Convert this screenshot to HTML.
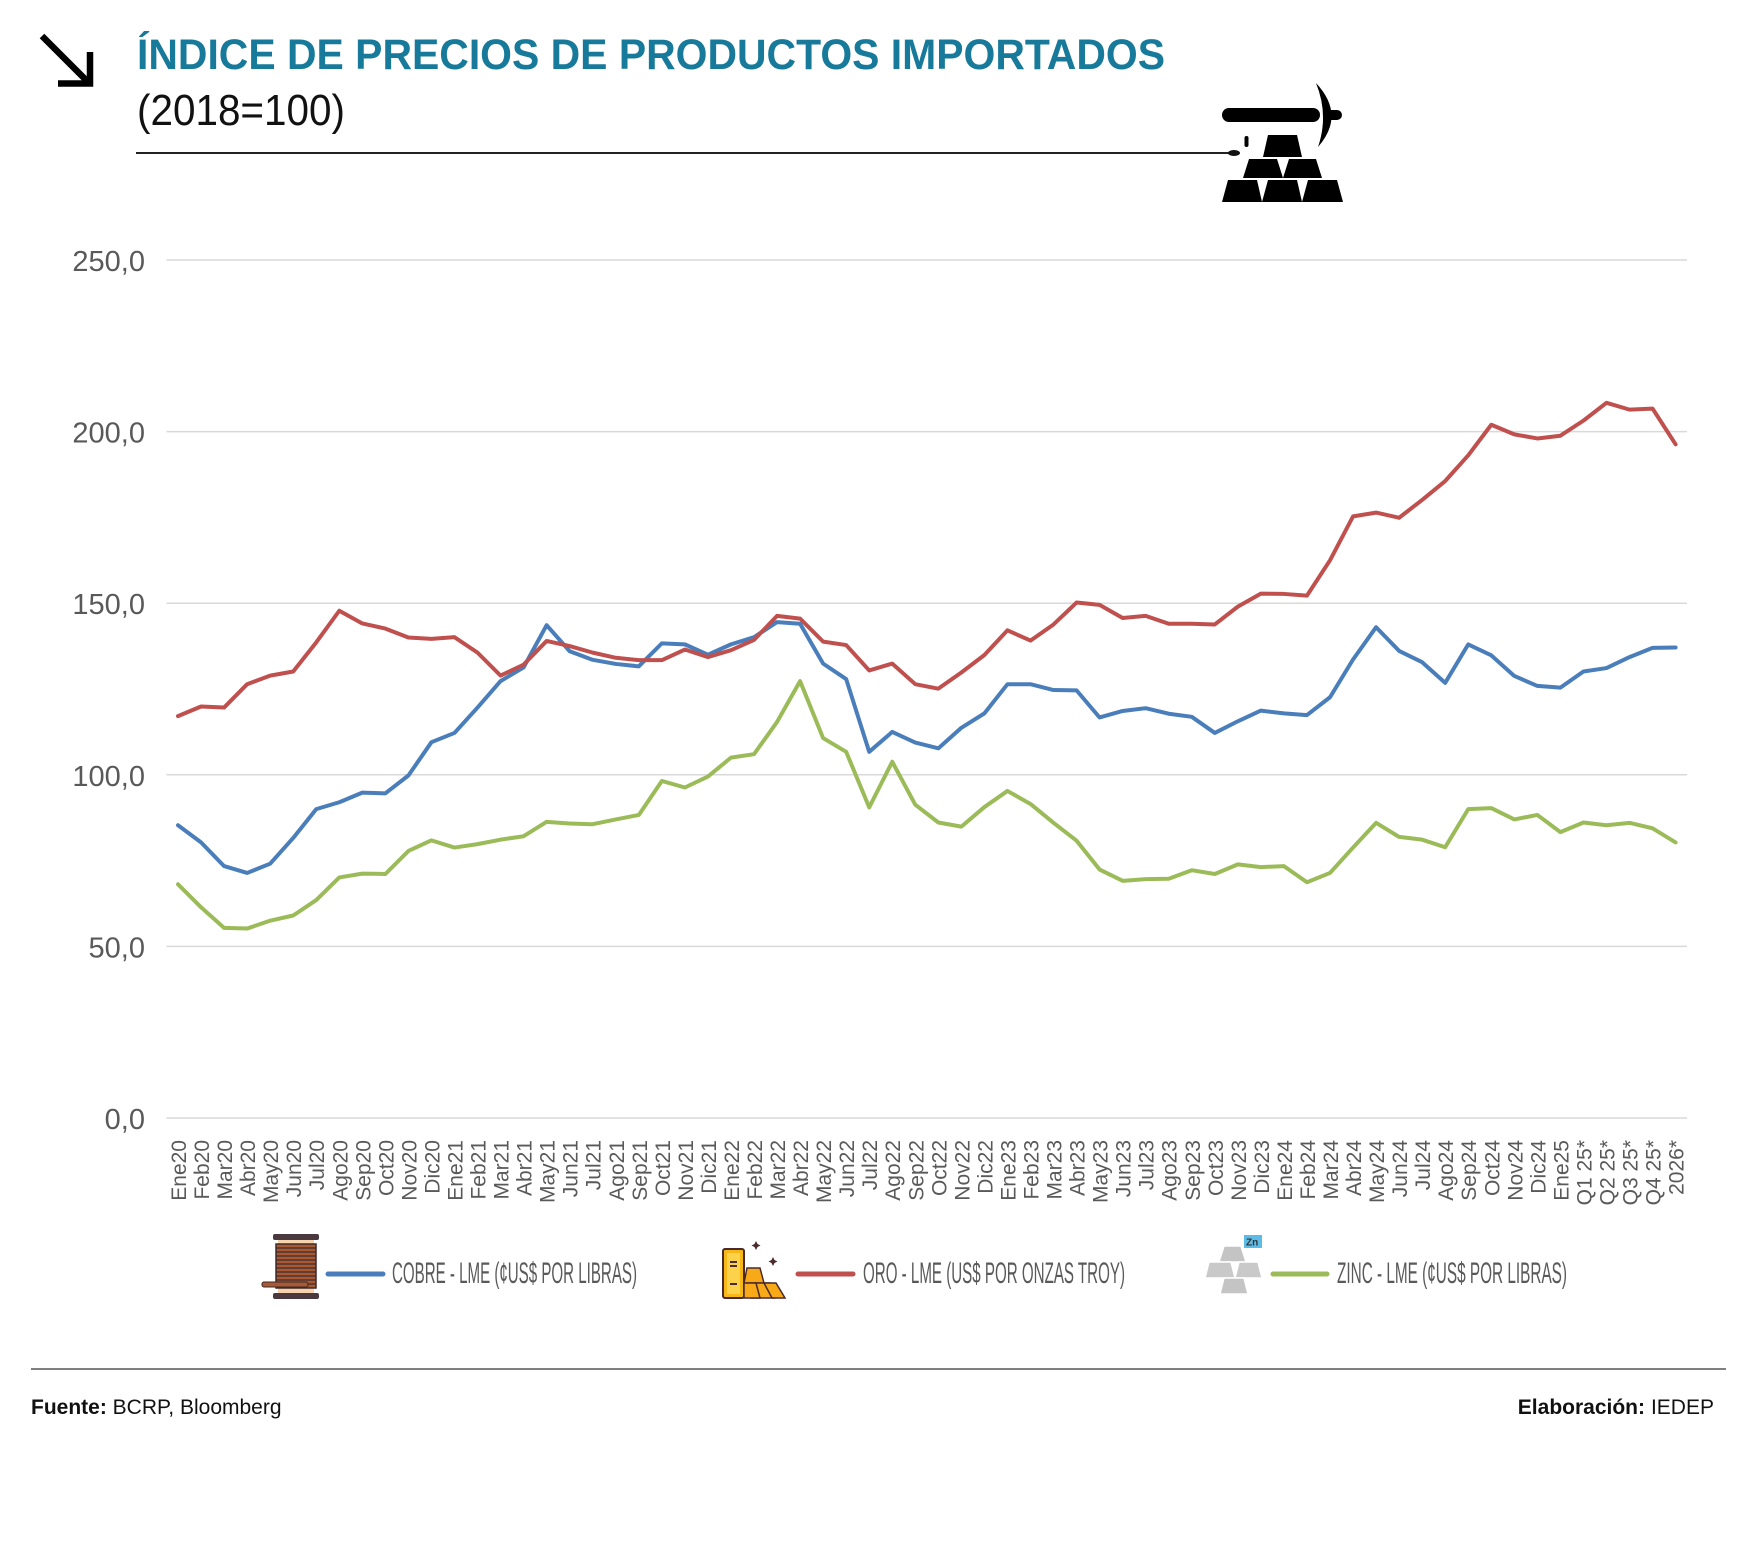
<!DOCTYPE html>
<html>
<head>
<meta charset="utf-8">
<style>
  html,body{margin:0;padding:0;background:#fff;}
  svg{display:block;}
  text{font-family:"Liberation Sans", Arial, sans-serif;}
</style>
</head>
<body>
<svg width="1740" height="1563" viewBox="0 0 1740 1563" xmlns="http://www.w3.org/2000/svg">
  <rect x="0" y="0" width="1740" height="1563" fill="#fff"/>

  <!-- Arrow icon -->
  <line x1="42" y1="36" x2="88" y2="82" stroke="#000" stroke-width="6.5"/>
  <polyline points="58,83.5 90,83.5 90,52" fill="none" stroke="#000" stroke-width="6.5" stroke-linejoin="miter"/>

  <!-- Title -->
  <text x="137" y="69" font-size="43" font-weight="bold" fill="#177a9a" textLength="1028" lengthAdjust="spacingAndGlyphs">ÍNDICE DE PRECIOS DE PRODUCTOS IMPORTADOS</text>
  <text x="137" y="125" font-size="44" fill="#111" textLength="208" lengthAdjust="spacingAndGlyphs">(2018=100)</text>
  <line x1="136" y1="153" x2="1232" y2="153" stroke="#222" stroke-width="2"/>
  <ellipse cx="1234" cy="153" rx="6" ry="3" fill="#111"/>

  <!-- Pickaxe + gold icon -->
  <rect x="1222" y="108" width="98" height="14" rx="7" fill="#000"/>
  <rect x="1326" y="110" width="16" height="10" rx="5" fill="#000"/>
  <path d="M1316,83 Q1346,115 1318,147 Q1329,115 1316,83 Z" fill="#000"/>
  <rect x="1244.5" y="136" width="4" height="11" rx="2" fill="#000"/>
  <polygon points="1268,135 1297,135 1302,157 1263,157" fill="#000"/>
  <polygon points="1249,159 1277,159 1283,178 1243,178" fill="#000"/>
  <polygon points="1289,159 1316,159 1322,178 1283,178" fill="#000"/>
  <polygon points="1228,180 1257,180 1262,202 1222,202" fill="#000"/>
  <polygon points="1268,180 1297,180 1302,202 1262,202" fill="#000"/>
  <polygon points="1308,180 1337,180 1343,202 1302,202" fill="#000"/>

  <!-- Gridlines -->
  <g stroke="#d9d9d9" stroke-width="1.5">
    <line x1="166.5" y1="260" x2="1687" y2="260"/>
    <line x1="166.5" y1="431.6" x2="1687" y2="431.6"/>
    <line x1="166.5" y1="603.2" x2="1687" y2="603.2"/>
    <line x1="166.5" y1="774.8" x2="1687" y2="774.8"/>
    <line x1="166.5" y1="946.4" x2="1687" y2="946.4"/>
    <line x1="166.5" y1="1118" x2="1687" y2="1118"/>
  </g>

  <!-- Y labels -->
  <g font-size="29" fill="#595959" text-anchor="end">
    <text x="145" y="271">250,0</text>
    <text x="145" y="442.6">200,0</text>
    <text x="145" y="614.2">150,0</text>
    <text x="145" y="785.8">100,0</text>
    <text x="145" y="957.4">50,0</text>
    <text x="145" y="1129">0,0</text>
  </g>

  <!-- Series -->
  <g transform="translate(178,1118) scale(23.04,-3.432)" fill="none" stroke-linejoin="round" stroke-linecap="round">
    <polyline vector-effect="non-scaling-stroke" stroke="#4a7ebb" stroke-width="4" points="0,85.3 1,80.3 2,73.4 3,71.4 4,74.1 5,81.6 6,90.0 7,92.0 8,94.8 9,94.6 10,99.8 11,109.5 12,112.2 13,119.6 14,127.3 15,131.3 16,143.6 17,136.0 18,133.5 19,132.3 20,131.6 21,138.3 22,138.0 23,135.0 24,138.0 25,140.1 26,144.5 27,144.0 28,132.4 29,127.9 30,106.7 31,112.5 32,109.4 33,107.7 34,113.7 35,117.9 36,126.4 37,126.4 38,124.7 39,124.6 40,116.7 41,118.6 42,119.4 43,117.8 44,116.9 45,112.2 46,115.6 47,118.7 48,117.9 49,117.4 50,122.6 51,133.6 52,143.0 53,136.1 54,132.8 55,126.8 56,138.0 57,134.8 58,128.8 59,125.9 60,125.4 61,130.1 62,131.1 63,134.3 64,137.0 65,137.1"/>
    <polyline vector-effect="non-scaling-stroke" stroke="#c0504d" stroke-width="4" points="0,117.1 1,119.9 2,119.6 3,126.4 4,128.9 5,130.1 6,138.6 7,147.8 8,144.1 9,142.6 10,140.0 11,139.6 12,140.1 13,135.6 14,128.9 15,132.1 16,139.0 17,137.5 18,135.6 19,134.1 20,133.4 21,133.4 22,136.5 23,134.3 24,136.3 25,139.3 26,146.3 27,145.5 28,138.8 29,137.8 30,130.4 31,132.4 32,126.4 33,125.1 34,129.8 35,134.9 36,142.1 37,139.1 38,143.8 39,150.2 40,149.5 41,145.7 42,146.3 43,144.0 44,144.0 45,143.8 46,149.0 47,152.8 48,152.7 49,152.2 50,162.5 51,175.3 52,176.4 53,174.9 54,180.1 55,185.6 56,193.1 57,202.0 58,199.2 59,198.0 60,198.8 61,203.2 62,208.4 63,206.4 64,206.7 65,196.3"/>
    <polyline vector-effect="non-scaling-stroke" stroke="#9bbb59" stroke-width="4" points="0,68.1 1,61.4 2,55.4 3,55.2 4,57.5 5,59.0 6,63.5 7,70.1 8,71.2 9,71.1 10,77.8 11,80.9 12,78.8 13,79.8 14,81.1 15,82.1 16,86.3 17,85.8 18,85.6 19,87.0 20,88.3 21,98.2 22,96.3 23,99.5 24,105.0 25,106.0 26,115.4 27,127.3 28,110.7 29,106.7 30,90.5 31,103.8 32,91.3 33,86.1 34,84.9 35,90.6 36,95.3 37,91.5 38,86.0 39,80.8 40,72.4 41,69.1 42,69.6 43,69.7 44,72.2 45,71.1 46,73.9 47,73.1 48,73.4 49,68.7 50,71.4 51,78.8 52,86.0 53,81.9 54,81.1 55,78.9 56,90.0 57,90.3 58,87.0 59,88.3 60,83.3 61,86.1 62,85.3 63,86.0 64,84.4 65,80.3"/>
  </g>

  <!-- X labels -->
  <g font-size="21" fill="#595959" text-anchor="end">
    <text transform="translate(186,1140) rotate(-90)">Ene20</text>
    <text transform="translate(209.04,1140) rotate(-90)">Feb20</text>
    <text transform="translate(232.08,1140) rotate(-90)">Mar20</text>
    <text transform="translate(255.12,1140) rotate(-90)">Abr20</text>
    <text transform="translate(278.16,1140) rotate(-90)">May20</text>
    <text transform="translate(301.2,1140) rotate(-90)">Jun20</text>
    <text transform="translate(324.24,1140) rotate(-90)">Jul20</text>
    <text transform="translate(347.28,1140) rotate(-90)">Ago20</text>
    <text transform="translate(370.32,1140) rotate(-90)">Sep20</text>
    <text transform="translate(393.36,1140) rotate(-90)">Oct20</text>
    <text transform="translate(416.4,1140) rotate(-90)">Nov20</text>
    <text transform="translate(439.44,1140) rotate(-90)">Dic20</text>
    <text transform="translate(462.48,1140) rotate(-90)">Ene21</text>
    <text transform="translate(485.52,1140) rotate(-90)">Feb21</text>
    <text transform="translate(508.56,1140) rotate(-90)">Mar21</text>
    <text transform="translate(531.6,1140) rotate(-90)">Abr21</text>
    <text transform="translate(554.64,1140) rotate(-90)">May21</text>
    <text transform="translate(577.68,1140) rotate(-90)">Jun21</text>
    <text transform="translate(600.72,1140) rotate(-90)">Jul21</text>
    <text transform="translate(623.76,1140) rotate(-90)">Ago21</text>
    <text transform="translate(646.8,1140) rotate(-90)">Sep21</text>
    <text transform="translate(669.84,1140) rotate(-90)">Oct21</text>
    <text transform="translate(692.88,1140) rotate(-90)">Nov21</text>
    <text transform="translate(715.92,1140) rotate(-90)">Dic21</text>
    <text transform="translate(738.96,1140) rotate(-90)">Ene22</text>
    <text transform="translate(762,1140) rotate(-90)">Feb22</text>
    <text transform="translate(785.04,1140) rotate(-90)">Mar22</text>
    <text transform="translate(808.08,1140) rotate(-90)">Abr22</text>
    <text transform="translate(831.12,1140) rotate(-90)">May22</text>
    <text transform="translate(854.16,1140) rotate(-90)">Jun22</text>
    <text transform="translate(877.2,1140) rotate(-90)">Jul22</text>
    <text transform="translate(900.24,1140) rotate(-90)">Ago22</text>
    <text transform="translate(923.28,1140) rotate(-90)">Sep22</text>
    <text transform="translate(946.32,1140) rotate(-90)">Oct22</text>
    <text transform="translate(969.36,1140) rotate(-90)">Nov22</text>
    <text transform="translate(992.4,1140) rotate(-90)">Dic22</text>
    <text transform="translate(1015.44,1140) rotate(-90)">Ene23</text>
    <text transform="translate(1038.48,1140) rotate(-90)">Feb23</text>
    <text transform="translate(1061.52,1140) rotate(-90)">Mar23</text>
    <text transform="translate(1084.56,1140) rotate(-90)">Abr23</text>
    <text transform="translate(1107.6,1140) rotate(-90)">May23</text>
    <text transform="translate(1130.64,1140) rotate(-90)">Jun23</text>
    <text transform="translate(1153.68,1140) rotate(-90)">Jul23</text>
    <text transform="translate(1176.72,1140) rotate(-90)">Ago23</text>
    <text transform="translate(1199.76,1140) rotate(-90)">Sep23</text>
    <text transform="translate(1222.8,1140) rotate(-90)">Oct23</text>
    <text transform="translate(1245.84,1140) rotate(-90)">Nov23</text>
    <text transform="translate(1268.88,1140) rotate(-90)">Dic23</text>
    <text transform="translate(1291.92,1140) rotate(-90)">Ene24</text>
    <text transform="translate(1314.96,1140) rotate(-90)">Feb24</text>
    <text transform="translate(1338,1140) rotate(-90)">Mar24</text>
    <text transform="translate(1361.04,1140) rotate(-90)">Abr24</text>
    <text transform="translate(1384.08,1140) rotate(-90)">May24</text>
    <text transform="translate(1407.12,1140) rotate(-90)">Jun24</text>
    <text transform="translate(1430.16,1140) rotate(-90)">Jul24</text>
    <text transform="translate(1453.2,1140) rotate(-90)">Ago24</text>
    <text transform="translate(1476.24,1140) rotate(-90)">Sep24</text>
    <text transform="translate(1499.28,1140) rotate(-90)">Oct24</text>
    <text transform="translate(1522.32,1140) rotate(-90)">Nov24</text>
    <text transform="translate(1545.36,1140) rotate(-90)">Dic24</text>
    <text transform="translate(1568.4,1140) rotate(-90)">Ene25</text>
    <text transform="translate(1591.44,1140) rotate(-90)">Q1 25*</text>
    <text transform="translate(1614.48,1140) rotate(-90)">Q2 25*</text>
    <text transform="translate(1637.52,1140) rotate(-90)">Q3 25*</text>
    <text transform="translate(1660.56,1140) rotate(-90)">Q4 25*</text>
    <text transform="translate(1683.6,1140) rotate(-90)">2026*</text>
  </g>

  <!-- Legend: copper spool icon -->
  <rect x="278" y="1240" width="36" height="54" fill="#f6d2ad"/>
  <rect x="276" y="1244" width="40" height="44" fill="#a85a34" stroke="#3d2a2a" stroke-width="1.5"/>
  <g stroke="#3d2a2a" stroke-width="1.2">
    <line x1="276" y1="1248" x2="316" y2="1248"/>
    <line x1="276" y1="1252" x2="316" y2="1252"/>
    <line x1="276" y1="1256" x2="316" y2="1256"/>
    <line x1="276" y1="1260" x2="316" y2="1260"/>
    <line x1="276" y1="1264" x2="316" y2="1264"/>
    <line x1="276" y1="1268" x2="316" y2="1268"/>
    <line x1="276" y1="1272" x2="316" y2="1272"/>
    <line x1="276" y1="1276" x2="316" y2="1276"/>
    <line x1="276" y1="1280" x2="316" y2="1280"/>
    <line x1="276" y1="1284" x2="316" y2="1284"/>
  </g>
  <rect x="273" y="1234" width="46" height="6" rx="2" fill="#4a3a3f"/>
  <rect x="273" y="1293" width="46" height="6" rx="2" fill="#4a3a3f"/>
  <rect x="262" y="1282" width="46" height="5" rx="2" fill="#a85a34" stroke="#3d2a2a" stroke-width="1"/>
  <line x1="328" y1="1274" x2="383" y2="1274" stroke="#4a7ebb" stroke-width="5" stroke-linecap="round"/>
  <text x="392" y="1283" font-size="30" fill="#595959" textLength="245" lengthAdjust="spacingAndGlyphs">COBRE - LME (¢US$ POR LIBRAS)</text>

  <!-- Legend: gold icon -->
  <rect x="723" y="1249" width="21" height="49" rx="2" fill="#f7b718" stroke="#4a2a2a" stroke-width="2"/>
  <rect x="727" y="1253" width="13" height="41" fill="#fbd24a"/>
  <line x1="730" y1="1262" x2="737" y2="1262" stroke="#4a2a2a" stroke-width="2"/>
  <line x1="730" y1="1266" x2="737" y2="1266" stroke="#4a2a2a" stroke-width="2"/>
  <line x1="730" y1="1284" x2="737" y2="1284" stroke="#4a2a2a" stroke-width="2"/>
  <polygon points="747,1268 760,1268 764,1283 744,1283" fill="#f7a918" stroke="#4a2a2a" stroke-width="1.5"/>
  <polygon points="755,1283 770,1283 774,1298 751,1298" fill="#f7a918" stroke="#4a2a2a" stroke-width="1.5"/>
  <polygon points="764,1283 776,1283 785,1298 772,1298" fill="#f7a918" stroke="#4a2a2a" stroke-width="1.5"/>
  <polygon points="744,1283 756,1283 760,1298 744,1298" fill="#f7a918" stroke="#4a2a2a" stroke-width="1.5"/>
  <path d="M756,1241 l1.5,3 3,1.5 -3,1.5 -1.5,3 -1.5,-3 -3,-1.5 3,-1.5 z" fill="#4a2a2a"/>
  <path d="M773,1257 l1.5,3 3,1.5 -3,1.5 -1.5,3 -1.5,-3 -3,-1.5 3,-1.5 z" fill="#4a2a2a"/>
  <line x1="798" y1="1274" x2="853" y2="1274" stroke="#c0504d" stroke-width="5" stroke-linecap="round"/>
  <text x="863" y="1283" font-size="30" fill="#595959" textLength="262" lengthAdjust="spacingAndGlyphs">ORO - LME (US$ POR ONZAS TROY)</text>

  <!-- Legend: zinc icon -->
  <g stroke="#fff" stroke-width="1.5">
    <polygon points="1224,1246 1241,1246 1246,1262 1219,1262" fill="#c4c4c4"/>
    <polygon points="1209,1262 1231,1262 1235,1278 1205,1278" fill="#c9c9c9"/>
    <polygon points="1239,1262 1258,1262 1262,1278 1235,1278" fill="#c9c9c9"/>
    <polygon points="1224,1278 1244,1278 1248,1294 1220,1294" fill="#c4c4c4"/>
  </g>
  <rect x="1244" y="1235" width="18" height="13" fill="#5bbce8"/>
  <text x="1246" y="1245.5" font-size="10" font-weight="bold" fill="#333">Zn</text>
  <line x1="1273" y1="1274" x2="1327" y2="1274" stroke="#9bbb59" stroke-width="5" stroke-linecap="round"/>
  <text x="1337" y="1283" font-size="30" fill="#595959" textLength="230" lengthAdjust="spacingAndGlyphs">ZINC - LME (¢US$ POR LIBRAS)</text>

  <!-- Footer -->
  <line x1="31" y1="1369" x2="1726" y2="1369" stroke="#555" stroke-width="1.5"/>
  <text x="31" y="1414" font-size="21" fill="#111"><tspan font-weight="bold">Fuente:</tspan> BCRP, Bloomberg</text>
  <text x="1645" y="1414" font-size="21" fill="#111" font-weight="bold" text-anchor="end">Elaboración:</text>
  <text x="1714" y="1414" font-size="21" fill="#111" text-anchor="end">IEDEP</text>
</svg>
</body>
</html>
